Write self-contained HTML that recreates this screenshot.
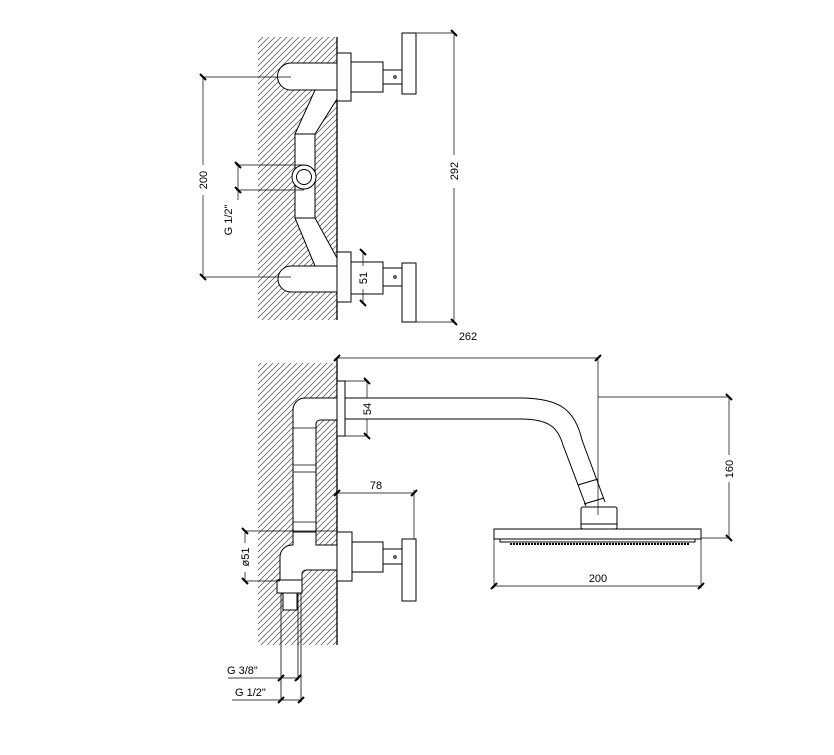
<!DOCTYPE html>
<html><head><meta charset="utf-8"><style>
html,body{margin:0;padding:0;background:#fff;}
svg{display:block;}
text{font-family:"Liberation Sans",sans-serif;font-size:11px;fill:#000;}
</style></head><body>
<svg width="834" height="755" viewBox="0 0 834 755" xmlns="http://www.w3.org/2000/svg">
<defs>
<pattern id="h" width="6" height="6" patternUnits="userSpaceOnUse">
<path d="M-1,7 L7,-1 M-1,1 L1,-1 M5,7 L7,5" stroke="#444" stroke-width="0.7"/>
</pattern>
</defs>
<g fill="none" stroke="#000" stroke-width="1">
<rect x="258" y="37" width="79" height="283" fill="url(#h)" stroke="none"/>
<line x1="337" y1="37" x2="337" y2="320" stroke-width="1.3"/>
<path d="M291,63 L337,63 L337,90 L291,90 A13,13 0 0 1 291,63 Z" fill="#fff"/>
<path d="M291,266 L337,266 L337,292 L291,292 A13,13 0 0 1 291,266 Z" fill="#fff"/>
<path d="M315,90 L337,90 L337,99 L315,134 L295,134 Z" fill="#fff"/>
<rect x="295" y="134" width="20" height="84" fill="#fff"/>
<path d="M295,218 L315,218 L337,258 L337,266 L315,266 Z" fill="#fff"/>
<circle cx="304" cy="177" r="12" fill="#fff"/>
<circle cx="304" cy="177" r="7.5"/>
<rect x="337" y="53" width="14" height="48" fill="#fff"/>
<rect x="351" y="62" width="32" height="30"/>
<rect x="383" y="70" width="19" height="14"/>
<circle cx="395" cy="77" r="1.2"/>
<rect x="402" y="33" width="14" height="61"/>
<rect x="337" y="252" width="14" height="50" fill="#fff"/>
<rect x="351" y="262" width="32" height="32"/>
<rect x="383" y="268" width="19" height="18"/>
<circle cx="395" cy="277" r="1.2"/>
<rect x="402" y="263" width="14" height="59"/>
<line x1="203" y1="77" x2="291" y2="77" stroke-width="0.7"/>
<line x1="203" y1="277" x2="291" y2="277" stroke-width="0.7"/>
<line x1="203" y1="77" x2="203" y2="165" stroke-width="0.7"/>
<line x1="203" y1="195" x2="203" y2="277" stroke-width="0.7"/>
<path d="M200,74 L206,80 M200,274 L206,280" stroke-width="2"/>
<line x1="236" y1="165" x2="304" y2="165" stroke-width="0.7"/>
<line x1="236" y1="190" x2="304" y2="190" stroke-width="0.7"/>
<line x1="238" y1="163" x2="238" y2="200" stroke-width="0.7"/>
<path d="M235,162 L241,168 M235,187 L241,193" stroke-width="2"/>
<line x1="416" y1="33" x2="455" y2="33" stroke-width="0.7"/>
<line x1="416" y1="322" x2="455" y2="322" stroke-width="0.7"/>
<line x1="454" y1="33" x2="454" y2="155" stroke-width="0.7"/>
<line x1="454" y1="188" x2="454" y2="322" stroke-width="0.7"/>
<path d="M451,30 L457,36 M451,319 L457,325" stroke-width="2"/>
<line x1="363" y1="252" x2="363" y2="266" stroke-width="0.7"/>
<line x1="363" y1="289" x2="363" y2="303" stroke-width="0.7"/>
<path d="M360,249 L366,255 M360,300 L366,306" stroke-width="2"/>

<rect x="258" y="363" width="79" height="282" fill="url(#h)" stroke="none"/>
<line x1="337" y1="358" x2="337" y2="645" stroke-width="1.3"/>
<path d="M293,532 L293,410 A12,12 0 0 1 305,398 L337,398 L337,420 L320,420 A4,4 0 0 0 316,424 L316,532 Z" fill="#fff"/>
<path d="M293,428 L316,428 M293,465 L316,465 M293,472 L316,472 M293,522 L316,522" stroke-width="0.8"/>
<path d="M293,532 L316,532 L316,545 L337,545 L337,570 L306,570 A4,4 0 0 0 302,574 L302,580 L280,580 L280,557 A12,12 0 0 1 292,545 L293,545 Z" fill="#fff"/>
<rect x="277" y="580" width="25" height="13" fill="#fff"/>
<rect x="283" y="593" width="14" height="17" fill="#fff"/>
<line x1="281" y1="593" x2="281" y2="700" stroke-width="0.8"/>
<line x1="298" y1="593" x2="298" y2="680" stroke-width="0.8"/>
<line x1="301" y1="593" x2="301" y2="702" stroke-width="0.8"/>
<rect x="337" y="532" width="15" height="49" fill="#fff"/>
<rect x="352" y="542" width="31" height="30"/>
<rect x="383" y="549" width="19" height="15"/>
<circle cx="395" cy="557" r="1.2"/>
<rect x="402" y="539" width="14" height="62"/>
<rect x="337" y="381" width="8" height="55" fill="#fff"/>
<path d="M345,398 L520,398 C560,398 575,410 582,440 L605,502"/>
<path d="M345,419 L520,419 C550,419 558,428 563,445 L586,506"/>
<path d="M578,485 L598,479 M584,504 L604,498"/>
<rect x="581" y="507" width="36" height="22" rx="2" fill="#fff"/>
<line x1="581" y1="524" x2="617" y2="524"/>
<rect x="494" y="529" width="207" height="10"/>
<path d="M500,539 L500,542 L695,542 L695,539"/>
<line x1="510" y1="544" x2="690" y2="544" stroke-width="2" stroke-dasharray="2,1"/>
<line x1="337" y1="358" x2="598" y2="358" stroke-width="0.7"/>
<line x1="598" y1="358" x2="598" y2="515" stroke-width="0.7"/>
<path d="M334,361 L340,355 M595,361 L601,355" stroke-width="2"/>
<line x1="345" y1="381" x2="368" y2="381" stroke-width="0.7"/>
<line x1="345" y1="436" x2="368" y2="436" stroke-width="0.7"/>
<line x1="367" y1="381" x2="367" y2="398" stroke-width="0.7"/>
<line x1="367" y1="419" x2="367" y2="436" stroke-width="0.7"/>
<path d="M364,378 L370,384 M364,433 L370,439" stroke-width="2"/>
<line x1="598" y1="397" x2="730" y2="397" stroke-width="0.7"/>
<line x1="701" y1="538" x2="730" y2="538" stroke-width="0.7"/>
<line x1="729" y1="397" x2="729" y2="455" stroke-width="0.7"/>
<line x1="729" y1="482" x2="729" y2="538" stroke-width="0.7"/>
<path d="M726,394 L732,400 M726,535 L732,541" stroke-width="2"/>
<line x1="494" y1="539" x2="494" y2="588" stroke-width="0.7"/>
<line x1="701" y1="539" x2="701" y2="588" stroke-width="0.7"/>
<line x1="494" y1="586" x2="701" y2="586" stroke-width="0.7"/>
<path d="M491,589 L497,583 M698,589 L704,583" stroke-width="2"/>
<line x1="337" y1="493" x2="415" y2="493" stroke-width="0.7"/>
<line x1="414" y1="490" x2="414" y2="539" stroke-width="0.7"/>
<path d="M334,496 L340,490 M411,496 L417,490" stroke-width="2"/>
<line x1="245" y1="531" x2="337" y2="531" stroke-width="0.7"/>
<line x1="245" y1="581" x2="280" y2="581" stroke-width="0.7"/>
<line x1="245" y1="531" x2="245" y2="543" stroke-width="0.7"/>
<line x1="245" y1="572" x2="245" y2="581" stroke-width="0.7"/>
<path d="M242,528 L248,534 M242,578 L248,584" stroke-width="2"/>
<line x1="228" y1="678" x2="298" y2="678" stroke-width="0.7"/>
<path d="M278,681 L284,675 M295,681 L301,675" stroke-width="2"/>
<line x1="232" y1="700" x2="301" y2="700" stroke-width="0.7"/>
<path d="M278,703 L284,697 M298,703 L304,697" stroke-width="2"/>
</g>
<text x="207" y="180" transform="rotate(-90 207 180)" text-anchor="middle">200</text>
<text x="232" y="220" transform="rotate(-90 232 220)" text-anchor="middle">G 1/2"</text>
<text x="458" y="171" transform="rotate(-90 458 171)" text-anchor="middle">292</text>
<text x="367" y="278" transform="rotate(-90 367 278)" text-anchor="middle">51</text>
<text x="468" y="340" text-anchor="middle">262</text>
<text x="371" y="409" transform="rotate(-90 371 409)" text-anchor="middle">54</text>
<text x="376" y="489" text-anchor="middle">78</text>
<text x="249" y="557" transform="rotate(-90 249 557)" text-anchor="middle">ø51</text>
<text x="733" y="469" transform="rotate(-90 733 469)" text-anchor="middle">160</text>
<text x="598" y="582" text-anchor="middle">200</text>
<text x="227" y="674">G 3/8"</text>
<text x="235" y="696">G 1/2"</text>
</svg>
</body></html>
